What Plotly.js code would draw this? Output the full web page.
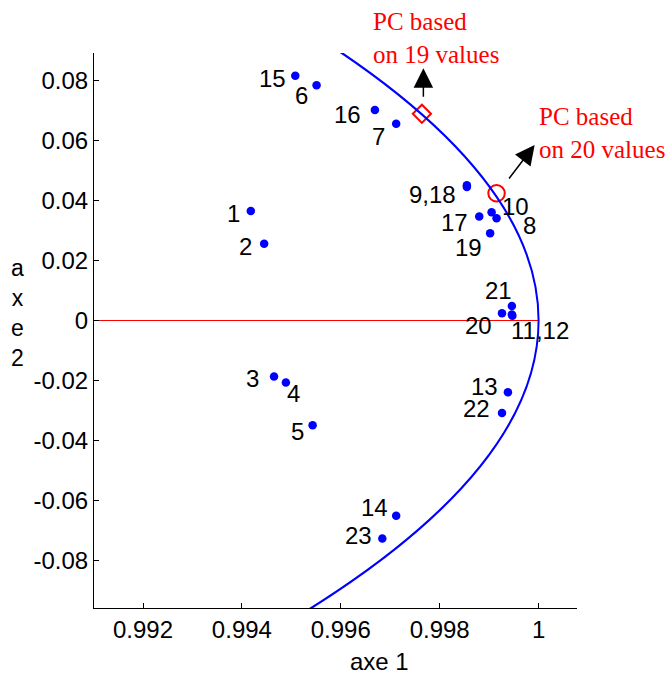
<!DOCTYPE html>
<html>
<head>
<meta charset="utf-8">
<script src="https://cdn.plot.ly/plotly-3.0.1.min.js"></script>
<style>html,body{margin:0;padding:0;background:#fff;}#chart{width:672px;height:682px;}</style>
</head>
<body>
<div id="chart"></div>
<script>
// ---- data ----
var obsIds = ['1','2','3','4','5','6','7','8','9','10','11','12','13','14','15','16','17','18','19','20','21','22','23'];
var axe1 = [0.99418,0.99445,0.99465,0.99489,0.99543,0.99551,0.99712,0.99915,0.99855,0.99905,0.99946,0.99947,0.99938,0.99712,0.99508,0.99669,0.99880,0.99855,0.99902,0.99926,0.99946,0.99926,0.99684];
var axe2 = [0.0365,0.0256,-0.0187,-0.0207,-0.0349,0.0784,0.0656,0.0341,0.0451,0.0361,0.0020,0.0016,-0.0239,-0.0651,0.0816,0.0702,0.0347,0.0445,0.0291,0.0024,0.0048,-0.0308,-0.0727];

// labels shown next to points (some points share one label)
var labelTexts  = ['1','2','3','4','5','6','7','8','9,18','10','11,12','13','14','15','16','17','19','20','21','22','23'];
var labelAnchor = ['1','2','3','4','5','6','7','8','9','10','11','13','14','15','16','17','19','20','21','22','23'];

// principal components
var pc19 = {x: [0.99764], y: [0.0689]};
var pc20 = {x: [0.99915], y: [0.0424]};

// unit circle radius and zero line
var circleRadius = 1;
var zeroLineX = [0.991, 1];
var zeroLineY = [0, 0];

var xTickVals = [0.992, 0.994, 0.996, 0.998, 1];
var xTickText = ['0.992', '0.994', '0.996', '0.998', '1'];
var yTickVals = [-0.08, -0.06, -0.04, -0.02, 0, 0.02, 0.04, 0.06, 0.08];
var yTickText = ['-0.08', '-0.06', '-0.04', '-0.02', '0', '0.02', '0.04', '0.06', '0.08'];

// ---- styling: label offsets in pixels (dx, dy with y downward) ----
var labelOffsets = {
  '1':[-17,2.3], '2':[-18.5,3], '3':[-21.5,1.6], '4':[7.6,10.6], '5':[-15.2,6.7],
  '6':[-15,9.7], '7':[-18,12.6], '8':[33.3,7.7], '9,18':[-34.7,9], '10':[24.3,-5.9],
  '11,12':[28.5,16], '13':[-23.3,-5.6], '14':[-21.7,-7.9], '15':[-23.3,2.6], '16':[-27,5],
  '17':[-24.3,6.2], '19':[-21.3,14.2], '20':[-23.7,12.5], '21':[-13,-16], '22':[-25.3,-4.7], '23':[-23.6,-3.4]
};

var sans = 'Liberation Sans, Arial, sans-serif';
var serif = 'Liberation Serif, Times New Roman, serif';

var traces = [
  {x: zeroLineX, y: zeroLineY, mode: 'lines', line: {color: '#ff0000', width: 1.2}, hoverinfo: 'skip'},
  {x: axe1, y: axe2, text: obsIds, mode: 'markers', marker: {color: '#0000ff', size: 8.5}, hoverinfo: 'text'},
  {x: pc19.x, y: pc19.y, mode: 'markers', marker: {symbol: 'diamond-open', color: '#ff0000', size: 14, line: {width: 2, color: '#ff0000'}}},
  {x: pc20.x, y: pc20.y, mode: 'markers', marker: {symbol: 'circle-open', color: '#ff0000', size: 16.5, line: {width: 2, color: '#ff0000'}}}
];

var annotations = [];
labelTexts.forEach(function (t, i) {
  var idx = obsIds.indexOf(labelAnchor[i]);
  var off = labelOffsets[t];
  annotations.push({
    x: axe1[idx], y: axe2[idx], xref: 'x', yref: 'y', text: t, showarrow: false,
    xanchor: 'center', yanchor: 'middle', xshift: off[0], yshift: -off[1],
    font: {family: sans, size: 24, color: '#000'}
  });
});

// arrows
annotations.push({x: 0.99767, y: 0.0841, xref: 'x', yref: 'y', text: '', showarrow: true,
  ax: 0, ay: 30, arrowhead: 2, arrowsize: 2.6, arrowwidth: 1.5, arrowcolor: '#000', standoff: 0});
annotations.push({x: 0.99992, y: 0.0585, xref: 'x', yref: 'y', text: '', showarrow: true,
  ax: -26.7, ay: 35, arrowhead: 2, arrowsize: 2.6, arrowwidth: 1.5, arrowcolor: '#000', standoff: 0});

// red notes
annotations.push({x: (370.5 - 94) / 483, y: (608 - 38) / 555, xref: 'paper', yref: 'paper',
  text: 'PC based<br>on 19 values', showarrow: false, align: 'left', xanchor: 'left', yanchor: 'middle',
  font: {family: serif, size: 25, color: '#ff0000'}});
annotations.push({x: (536.8 - 94) / 483, y: (608 - 133.3) / 555, xref: 'paper', yref: 'paper',
  text: 'PC based<br>on 20 values', showarrow: false, align: 'left', xanchor: 'left', yanchor: 'middle',
  font: {family: serif, size: 25, color: '#ff0000'}});

// axis titles
annotations.push({x: (379 - 94) / 483, y: (608 - 661.5) / 555, xref: 'paper', yref: 'paper',
  text: 'axe 1', showarrow: false, xanchor: 'center', yanchor: 'middle',
  font: {family: sans, size: 24, color: '#000'}});
annotations.push({x: (17.5 - 94) / 483, y: (608 - 313) / 555, xref: 'paper', yref: 'paper',
  text: 'a<br>x<br>e<br>2', showarrow: false, xanchor: 'center', yanchor: 'middle', align: 'center',
  font: {family: sans, size: 23, color: '#000'}});

var layout = {
  width: 672, height: 682,
  margin: {l: 94, r: 95, t: 53, b: 74, pad: 0},
  paper_bgcolor: '#fff', plot_bgcolor: '#fff',
  showlegend: false,
  font: {family: sans, size: 24, color: '#000'},
  xaxis: {
    range: [0.991009, 1.000777], showgrid: false, zeroline: false,
    showline: true, linecolor: '#000', linewidth: 1, mirror: false,
    ticks: 'inside', ticklen: 5, tickcolor: '#000', tickwidth: 1,
    tickmode: 'array', tickvals: xTickVals, ticktext: xTickText,
    tickfont: {family: sans, size: 24, color: '#000'}
  },
  yaxis: {
    range: [-0.09583, 0.08917], showgrid: false, zeroline: false,
    showline: true, linecolor: '#000', linewidth: 1, mirror: false,
    ticks: 'inside', ticklen: 5, tickcolor: '#000', tickwidth: 1,
    tickmode: 'array', tickvals: yTickVals, ticktext: yTickText,
    tickfont: {family: sans, size: 24, color: '#000'}
  },
  shapes: [{
    type: 'circle', xref: 'x', yref: 'y', layer: 'above',
    x0: -circleRadius, x1: circleRadius, y0: -circleRadius, y1: circleRadius,
    line: {color: '#0000ff', width: 2}
  }],
  annotations: annotations
};

Plotly.newPlot('chart', traces, layout, {displayModeBar: false, staticPlot: true});
</script>
</body>
</html>
